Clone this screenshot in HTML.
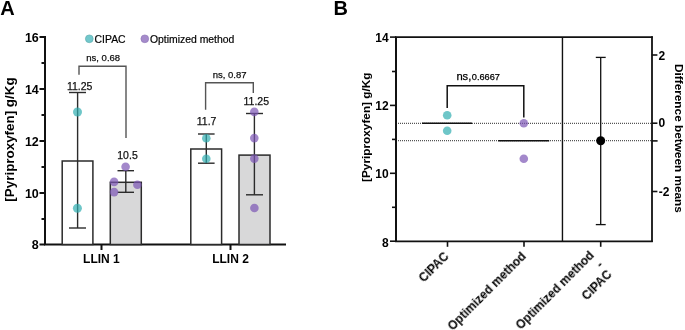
<!DOCTYPE html>
<html><head><meta charset="utf-8">
<style>
html,body{margin:0;padding:0;background:#fff;}
body{width:685px;height:330px;overflow:hidden;position:relative;font-family:"Liberation Sans",sans-serif;}
svg{position:absolute;left:0;top:0;will-change:transform;}
svg,.rl{filter:blur(0.3px);}
svg text{font-family:"Liberation Sans",sans-serif;}
.b{font-weight:bold;}
.rl{position:absolute;font-family:"Liberation Sans",sans-serif;font-weight:bold;font-size:12px;line-height:13px;text-align:right;white-space:nowrap;transform:rotate(-45deg);transform-origin:100% 0;}
</style></head>
<body>
<svg width="685" height="330" viewBox="0 0 685 330">
<!-- ============ PANEL A ============ -->
<text x="0.2" y="14.7" class="b" font-size="20">A</text>
<!-- y axis label -->
<text class="b" font-size="13.4" text-anchor="middle" transform="translate(13.6,139.5) rotate(-90)">[Pyriproxyfen] g/Kg</text>
<!-- y axis -->
<g stroke="#111" stroke-width="2" fill="none">
<line x1="45" y1="36" x2="45" y2="245"/>
<line x1="44" y1="244.5" x2="286" y2="244.5"/>
<line x1="39.5" y1="37" x2="45" y2="37"/>
<line x1="39.5" y1="89" x2="45" y2="89"/>
<line x1="39.5" y1="141" x2="45" y2="141"/>
<line x1="39.5" y1="193" x2="45" y2="193"/>
<line x1="39.5" y1="244.5" x2="45" y2="244.5"/>
<line x1="41.5" y1="63" x2="45" y2="63"/>
<line x1="41.5" y1="115" x2="45" y2="115"/>
<line x1="41.5" y1="167" x2="45" y2="167"/>
<line x1="41.5" y1="219" x2="45" y2="219"/>
<line x1="101.5" y1="244" x2="101.5" y2="250"/>
<line x1="230.5" y1="244" x2="230.5" y2="250"/>
</g>
<g class="b" font-size="12.5" text-anchor="end">
<text x="38.8" y="41.5">16</text>
<text x="38.8" y="93.5">14</text>
<text x="38.8" y="145.5">12</text>
<text x="38.8" y="197.5">10</text>
<text x="38.8" y="249">8</text>
</g>
<g class="b" font-size="12" text-anchor="middle">
<text x="101.4" y="263">LLIN 1</text>
<text x="230.5" y="263">LLIN 2</text>
</g>
<!-- bars -->
<g stroke="#2b2b2b" stroke-width="1.5">
<rect x="62.2" y="161" width="30.7" height="83.5" fill="#fff"/>
<rect x="110.3" y="182.3" width="31" height="62.2" fill="#d8d8d9"/>
<rect x="190.8" y="149" width="30.8" height="95.5" fill="#fff"/>
<rect x="239" y="155.1" width="31" height="89.4" fill="#d8d8d9"/>
</g>
<!-- error bars -->
<g stroke="#2b2b2b" stroke-width="1.4" fill="none">
<line x1="77.6" y1="92.5" x2="77.6" y2="228"/><line x1="69" y1="92.5" x2="86" y2="92.5"/><line x1="69" y1="228" x2="86" y2="228"/>
<line x1="125.8" y1="170.7" x2="125.8" y2="192.3"/><line x1="117.5" y1="170.7" x2="134" y2="170.7"/><line x1="117.5" y1="192.3" x2="134" y2="192.3"/>
<line x1="206.3" y1="134" x2="206.3" y2="163.2"/><line x1="198" y1="134" x2="214.6" y2="134"/><line x1="198" y1="163.2" x2="214.6" y2="163.2"/>
<line x1="254.4" y1="113.5" x2="254.4" y2="194.8"/><line x1="246" y1="113.5" x2="263" y2="113.5"/><line x1="246" y1="194.8" x2="263" y2="194.8"/>
</g>
<!-- dots -->
<g fill="#30aeb0" fill-opacity="0.7">
<circle cx="77.5" cy="112" r="4.5"/><circle cx="77.4" cy="208.3" r="4.5"/>
<circle cx="206.3" cy="138.2" r="4.3"/><circle cx="206.3" cy="158.8" r="4.3"/>
</g>
<g fill="#7c55b5" fill-opacity="0.7">
<circle cx="125.6" cy="166.7" r="4.3"/><circle cx="114.1" cy="181.9" r="4.3"/><circle cx="137.4" cy="184.7" r="4.3"/><circle cx="114.1" cy="192.1" r="4.3"/>
<circle cx="254.3" cy="111.9" r="4.3"/><circle cx="254.3" cy="138.1" r="4.3"/><circle cx="254.3" cy="158.6" r="4.3"/><circle cx="254.4" cy="208" r="4.3"/>
</g>
<!-- value labels -->
<g font-size="10.5" text-anchor="middle" fill="#111" stroke="#111" stroke-width="0.25">
<text x="79.7" y="89.5">11.25</text>
<text x="127.5" y="159">10.5</text>
<text x="206.6" y="125.4">11.7</text>
<text x="256.3" y="105.4">11.25</text>
</g>
<!-- brackets -->
<g stroke="#555" stroke-width="1.4" fill="none">
<polyline points="79,74.8 79,66.3 126,66.3 126,138"/>
<polyline points="205.6,109.7 205.6,82.8 253.3,82.8 253.3,93"/>
</g>
<g font-size="9.5" text-anchor="middle" fill="#111" stroke="#111" stroke-width="0.25">
<text x="103.2" y="61">ns, 0.68</text>
<text x="229.6" y="77.6">ns, 0.87</text>
</g>
<!-- legend -->
<circle cx="89.3" cy="38.8" r="3.9" fill="#72c8cc" stroke="#5aa8aa" stroke-width="0.6"/>
<text x="94.6" y="42.9" font-size="10.4" stroke="#000" stroke-width="0.2">CIPAC</text>
<circle cx="144.8" cy="38.8" r="3.9" fill="#a58bcb" stroke="#8d73b5" stroke-width="0.6"/>
<text x="150" y="42.9" font-size="10.4" stroke="#000" stroke-width="0.2">Optimized method</text>

<!-- ============ PANEL B ============ -->
<text x="333.4" y="14.8" class="b" font-size="20">B</text>
<text class="b" font-size="11.8" text-anchor="middle" transform="translate(369.8,127.2) rotate(-90)">[Pyriproxyfen] g/Kg</text>
<!-- dotted lines -->
<g stroke="#555" stroke-width="1.2" stroke-dasharray="1 1" fill="none">
<line x1="396" y1="123.3" x2="652" y2="123.3"/>
<line x1="396" y1="140.7" x2="652" y2="140.7"/>
</g>
<!-- frame -->
<g stroke="#111" fill="none">
<line x1="396" y1="36.8" x2="396" y2="242" stroke-width="2"/>
<line x1="395" y1="37.1" x2="652.8" y2="37.1" stroke-width="1.7"/>
<line x1="395" y1="241.3" x2="652.8" y2="241.3" stroke-width="1.7"/>
<line x1="652" y1="36.3" x2="652" y2="242.1" stroke-width="1.8"/>
<line x1="562.45" y1="37" x2="562.45" y2="242" stroke-width="1.4"/>
</g>
<g stroke="#111" stroke-width="1.6">
<line x1="390" y1="37.1" x2="396" y2="37.1"/>
<line x1="390" y1="105.4" x2="396" y2="105.4"/>
<line x1="390" y1="173.3" x2="396" y2="173.3"/>
<line x1="390" y1="241.2" x2="396" y2="241.2"/>
<line x1="392" y1="71.5" x2="396" y2="71.5"/>
<line x1="392" y1="139.4" x2="396" y2="139.4"/>
<line x1="392" y1="207.3" x2="396" y2="207.3"/>
<line x1="651.8" y1="55" x2="657.4" y2="55"/>
<line x1="651.8" y1="123.2" x2="657.4" y2="123.2"/>
<line x1="651.8" y1="191.5" x2="657.4" y2="191.5"/>
<line x1="651.8" y1="140.9" x2="657.6" y2="140.9"/>
<line x1="447.5" y1="241" x2="447.5" y2="246.8"/>
<line x1="524" y1="241" x2="524" y2="246.8"/>
<line x1="600.7" y1="241" x2="600.7" y2="246.8"/>
</g>
<g class="b" font-size="12" text-anchor="end">
<text x="388.6" y="41.7">14</text>
<text x="388.6" y="109.5">12</text>
<text x="388.6" y="178.1">10</text>
<text x="388.6" y="246.6">8</text>
</g>
<g class="b" font-size="12">
<text x="658.5" y="59.6">2</text>
<text x="658.5" y="127.1">0</text>
<text x="658.7" y="196">-2</text>
</g>
<text class="b" font-size="11.8" text-anchor="middle" transform="translate(674.7,138.4) rotate(90)">Difference between means</text>
<!-- mean lines -->
<g stroke="#111" stroke-width="1.6">
<line x1="422" y1="123.2" x2="472" y2="123.2"/>
<line x1="498.2" y1="140.7" x2="549.2" y2="140.7"/>
</g>
<!-- bracket -->
<polyline points="447.2,108 447.2,85.7 523.8,85.7 523.8,117.4" stroke="#111" stroke-width="1.5" fill="none"/>
<text x="456.4" y="80.4" font-size="11.2" stroke="#000" stroke-width="0.25">ns,</text>
<text x="471.8" y="80.4" font-size="9.2" stroke="#000" stroke-width="0.25">0.6667</text>
<!-- dots -->
<g fill="#30aeb0" fill-opacity="0.7">
<circle cx="447.2" cy="115.2" r="4.3"/><circle cx="447.2" cy="130.8" r="4.3"/>
</g>
<g fill="#7c55b5" fill-opacity="0.7">
<circle cx="523.8" cy="123.2" r="4.3"/><circle cx="523.8" cy="158.8" r="4.3"/>
</g>
<!-- difference -->
<g stroke="#111" stroke-width="1.3" fill="none">
<line x1="600.7" y1="57.4" x2="600.7" y2="224.6"/>
<line x1="595.8" y1="57.4" x2="605.7" y2="57.4"/>
<line x1="595.8" y1="224.6" x2="605.7" y2="224.6"/>
</g>
<circle cx="600.7" cy="140.8" r="4.5" fill="#000"/>
</svg>
<div class="rl" style="right:242.5px;top:249.5px;">CIPAC</div>
<div class="rl" style="right:165.5px;top:250px;">Optimized method</div>
<div class="rl" style="right:97.5px;top:249px;">Optimized method</div>
<div class="rl" style="right:87.8px;top:259px;">-</div>
<div class="rl" style="right:79.5px;top:267.5px;">CIPAC</div>
</body></html>
